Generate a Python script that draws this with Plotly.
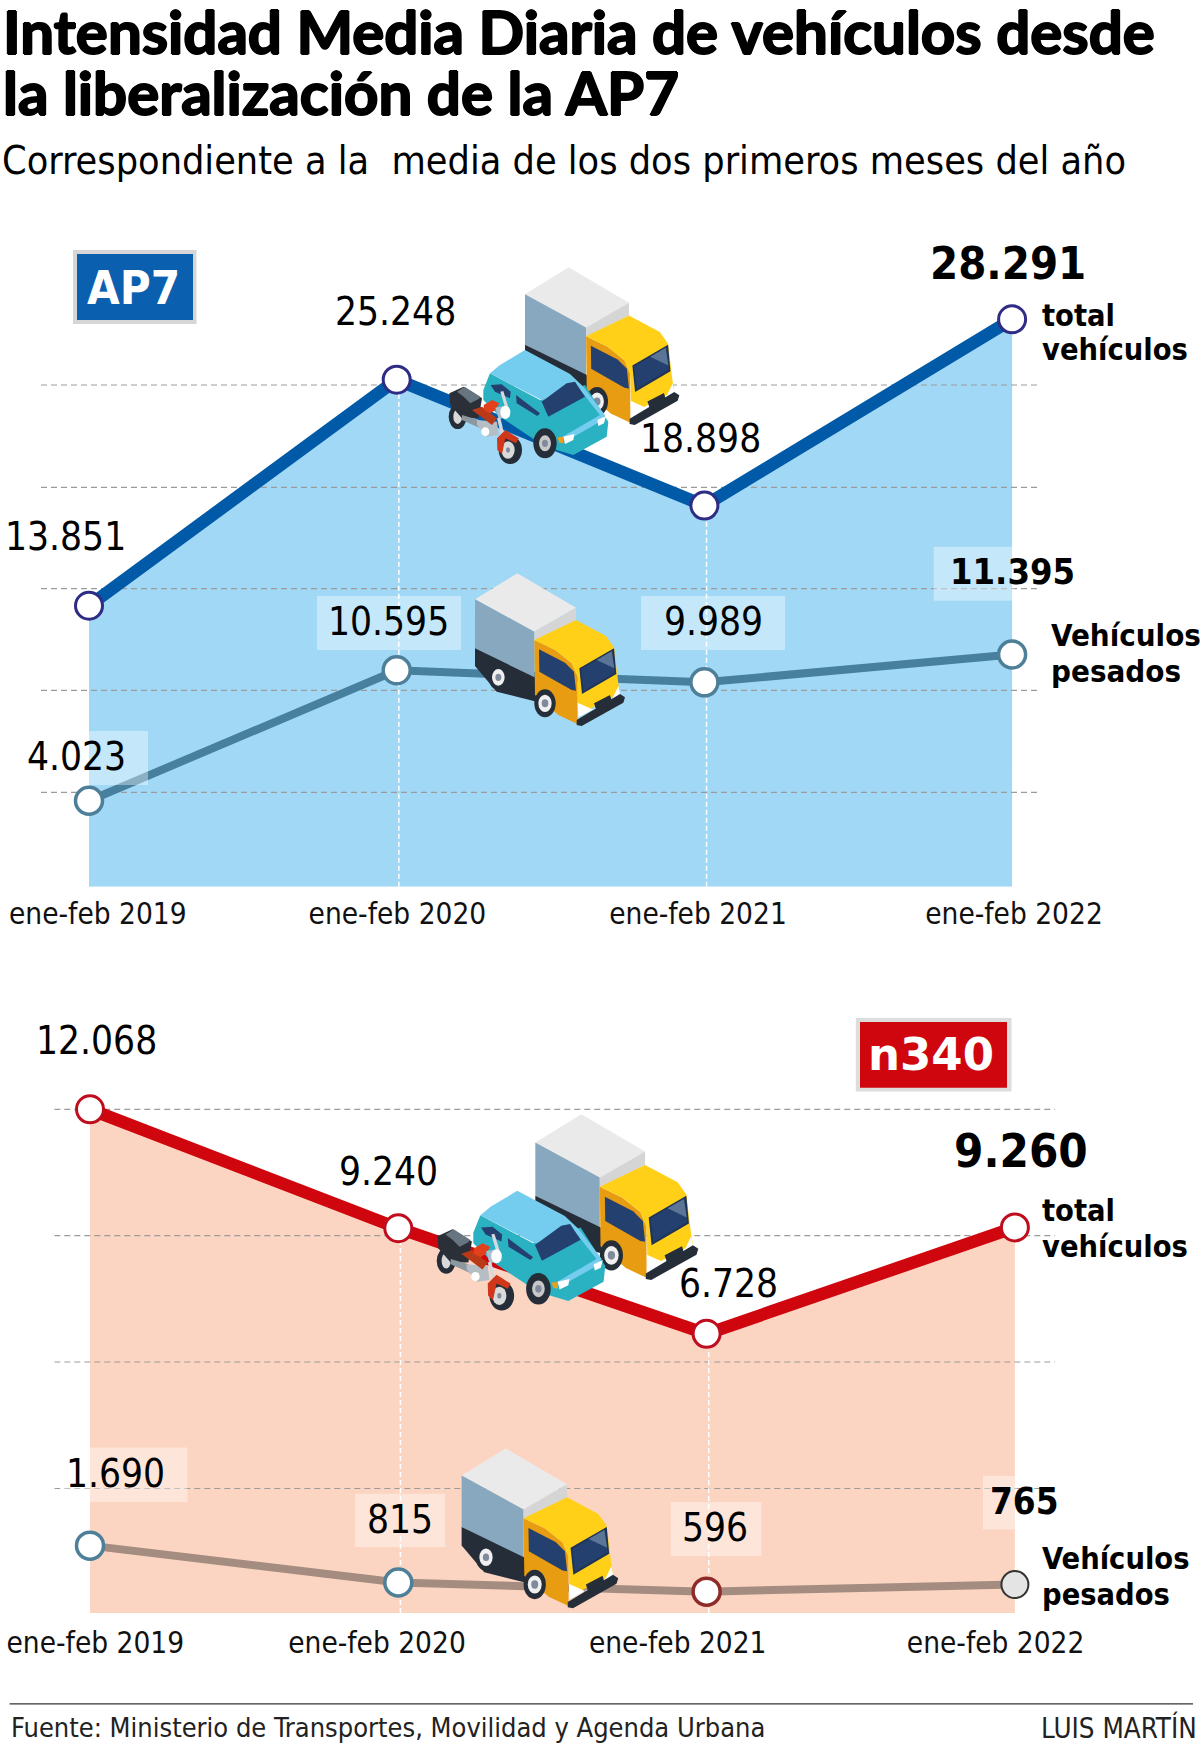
import plotly.graph_objects as go

# ---------- data ----------
categories = ["ene-feb 2019", "ene-feb 2020", "ene-feb 2021", "ene-feb 2022"]
x_index = [0, 1, 2, 3]
ap7_total = [13851, 25248, 18898, 28291]
ap7_heavy = [4023, 10595, 9989, 11395]
n340_total = [12068, 9240, 6728, 9260]
n340_heavy = [1690, 815, 596, 765]

W, H = 1200, 1746
COND = "DejaVu Sans Condensed"
HEAVY = "Lato"
BOLDER = "1px 0 #000, -1px 0 #000, 0 1px #000, 0 -1px #000"
fmt = lambda v: f"{v:,}".replace(",", ".")
px = lambda x: x / W
py = lambda y: 1 - y / H

# pixel geometry of both panels: left, right, top, bottom, x of first point, x step, y of value 0, px per unit
A = dict(l=41, r=1039, t=225, b=886.7, x0=89, dx=307.7, y0=880.5, k=0.019837)
N = dict(l=54.3, r=1055, t=1085, b=1613, x0=90, dx=308.3, y0=1616.7, k=0.04204)
for P in (A, N):
    P["xr"] = [(P["l"] - P["x0"]) / P["dx"], (P["r"] - P["x0"]) / P["dx"]]
    P["yr"] = [(P["y0"] - P["b"]) / P["k"], (P["y0"] - P["t"]) / P["k"]]

fig = go.Figure()


def panel(P, xa, ya, total, heavy, grid, fill, line_c, mark_c, hline_c, hmark_c, hfill, hmark_w):
    base = P["yr"][0]
    kw = dict(xaxis=xa, yaxis=ya, showlegend=False, hoverinfo="skip", cliponaxis=False)
    fig.add_trace(go.Scatter(x=x_index, y=[base] * 4, mode="lines", line=dict(width=0), **kw))
    fig.add_trace(go.Scatter(x=x_index, y=total, mode="lines", line=dict(width=0), fill="tonexty", fillcolor=fill, **kw))
    for g in grid:
        fig.add_trace(go.Scatter(x=P["xr"], y=[g, g], mode="lines",
                                 line=dict(color="#9b9b9b", width=1.2, dash="6px,4px"), **kw))
    for i in (1, 2):
        fig.add_trace(go.Scatter(x=[i + 0.007] * 2, y=[base, total[i]], mode="lines",
                                 line=dict(color="#ffffff", width=1.5, dash="5px,3px"), **kw))
    fig.add_trace(go.Scatter(x=x_index, y=heavy, mode="lines+markers", line=dict(color=hline_c, width=8),
                             marker=dict(size=27, color=hfill, line=dict(color=hmark_c, width=hmark_w), opacity=1), **kw))
    fig.add_trace(go.Scatter(x=x_index, y=total, mode="lines+markers", line=dict(color=line_c, width=12.5),
                             marker=dict(size=27, color="#ffffff", line=dict(color=mark_c, width=3)), **kw))


panel(A, "x", "y", ap7_total, ap7_heavy, [24979, 19822, 14710, 9588, 4446],
      "#A1D8F6", "#005AA7", "#2E2C84", "#46809E", ["#4E7F98"] * 4, ["#ffffff"] * 4, [3.5] * 4)
panel(N, "x2", "y2", n340_total, n340_heavy, [12069, 9063, 6059, 3050],
      "#FCD5C2", "#D0060F", "#C00D1E", "#A48D80",
      ["#4E7F98", "#4E7F98", "#8E2A28", "#333333"], ["#ffffff", "#ffffff", "#ffffff", "#E4E4E4"], [3.5, 3.5, 3.5, 2])


def axes(P, pos_px, standoff):
    x = dict(range=P["xr"], domain=[px(P["l"]), px(P["r"])], tickmode="array",
             tickvals=[(p - P["x0"]) / P["dx"] for p in pos_px], ticktext=categories, ticks="",
             showgrid=False, zeroline=False, showline=False,
             tickfont=dict(family=COND, size=29.5, color="#111111"), ticklabelstandoff=standoff)
    y = dict(range=P["yr"], domain=[py(P["b"]), py(P["t"])], showgrid=False, zeroline=False,
             showticklabels=False, ticks="", showline=False)
    return x, y


xa1, ya1 = axes(A, [97.8, 397.4, 698, 1014], 7)
xa2, ya2 = axes(N, [95.3, 377, 677.7, 995.6], 9)
xa2["anchor"] = "y2"
ya2["anchor"] = "x2"

anns = []


def text(s, x, y, size, family=COND, bold=False, anchor="left", color="#000000", shadow=None):
    font = dict(family=family, size=size, color=color, weight=700 if bold else 400)
    if shadow:
        font["shadow"] = shadow
    anns.append(dict(text=s, xref="paper", yref="paper", x=px(x), y=py(y), xanchor=anchor, yanchor="middle",
                     showarrow=False, font=font))


def vlabel(v, i, xa, ya, dx, dy, bold=False, size=38.5):
    anns.append(dict(text=fmt(v), xref=xa, yref=ya, x=i, y=v, xshift=dx, yshift=-dy, xanchor="center",
                     yanchor="middle", showarrow=False,
                     font=dict(family=COND, size=size, color="#000000", weight=700 if bold else 400)))


# header
text("Intensidad Media Diaria de vehículos desde", 0.5, 31, 60, HEAVY, True, shadow=BOLDER)
text("la liberalización de la AP7", 0.5, 92, 60, HEAVY, True, shadow=BOLDER)
text("Correspondiente a la  media de los dos primeros meses del año", 0, 160, 39.2)

# value labels
off_a_total = [(-23.4, -69), (-1.2, -68), (-4.4, -67.6), (-4.4, -56)]
off_a_heavy = [(-12.5, -44), (-8.7, -48.6), (9.2, -60.6), (0.5, -82.5)]
off_n_total = [(6.6, -68.8), (-9.5, -56.4), (21.9, -50), (5.6, -77)]
off_n_heavy = [(25.6, -72.4), (1.7, -63.4), (8.4, -64.6), (9.5, -83.5)]
for i in range(4):
    b = i == 3
    vlabel(ap7_total[i], i, "x", "y", *off_a_total[i], bold=b, size=45 if b else 38.5)
    vlabel(ap7_heavy[i], i, "x", "y", *off_a_heavy[i], bold=b, size=36 if b else 38.5)
    vlabel(n340_total[i], i, "x2", "y2", *off_n_total[i], bold=b, size=47 if b else 38.5)
    vlabel(n340_heavy[i], i, "x2", "y2", *off_n_heavy[i], bold=b, size=36.5 if b else 38.5)

# series names
text("total", 1039.7, 315, 30.5, COND, True)
text("vehículos", 1039.7, 350, 30.5, COND, True)
text("Vehículos", 1048.5, 635, 31, COND, True)
text("pesados", 1048.5, 671, 31, COND, True)
text("total", 1040, 1210, 30.5, COND, True)
text("vehículos", 1040, 1246, 30.5, COND, True)
text("Vehículos", 1040, 1558, 30.5, COND, True)
text("pesados", 1040, 1594, 30.5, COND, True)

# badges
text("AP7", 133.5, 288, 47, COND, True, "center", "#ffffff")
text("n340", 930.5, 1054, 45, "DejaVu Sans", True, "center", "#ffffff")

# footer
text("Fuente: Ministerio de Transportes, Movilidad y Agenda Urbana", 9, 1727, 27, COND, False, "left", "#222222")
text("LUIS MARTÍN", 1199, 1727, 27.5, COND, False, "right", "#222222")

# ---------- shapes ----------
shapes = []


def rect(x0, y0, x1, y1, color, layer="above"):
    shapes.append(dict(type="rect", xref="paper", yref="paper", x0=px(x0), x1=px(x1), y0=py(y1), y1=py(y0),
                       fillcolor=color, line=dict(width=0), layer=layer))


# translucent plates behind value labels
plate = "rgba(255,255,255,0.38)"
for r in [(50, 731, 148, 785), (317, 596, 461, 650), (641, 596, 785, 650), (933.7, 546.7, 1014.6, 600.7),
          (60, 1447.5, 187.5, 1502), (355, 1493.8, 445, 1547), (670.8, 1502, 761.5, 1556), (983, 1475.7, 1017, 1529.6)]:
    rect(*r, plate)

# badges
rect(73, 250, 196.5, 324, "#D6D6D6")
rect(77, 254, 193, 320, "#0A5FAE")
rect(855.8, 1018, 1011.5, 1091.6, "#DDDDDD")
rect(860, 1022, 1007, 1087.8, "#D0060F")
# footer rule
rect(9.6, 1703.2, 1193, 1704.4, "#333333")

DARK, NAVY, GREY = "#252E38", "#23406F", "#7F8A9C"
TRUCK = [
    ("#EAEAEA", [(105, 118), (232, 40), (408, 143), (283, 215)]),
    ("#87A8BF", [(105, 118), (283, 215), (283, 360), (105, 265)]),
    ("#D5D5D5", [(283, 215), (408, 143), (408, 180), (283, 245)]),
    (DARK, [(105, 265), (290, 355), (290, 425), (170, 395), (105, 318)]),
    ("E", (175, 352, 30, 38, DARK)), ("E", (175, 352, 19, 25, "#F0F0F0")), ("E", (175, 352, 9, 11, GREY)),
    ("#E89C12", [(283, 240), (345, 270), (395, 310), (412, 350), (412, 492), (355, 465), (285, 405)]),
    ("#FFD017", [(283, 240), (408, 180), (498, 228), (522, 262), (535, 370), (540, 400), (415, 465), (412, 350),
                 (395, 310), (345, 270)]),
    (NAVY, [(297, 268), (375, 308), (402, 335), (408, 392), (395, 390), (298, 335)]),
    ("#1F3356", [(418, 325), (522, 265), (529, 342), (426, 402)]),
    (NAVY, [(423, 328), (517, 273), (524, 338), (431, 393)]),
    ("#5B7596", [(470, 300), (515, 274), (523, 325)]),
    ("#FFFFFF", [(413, 428), (462, 450), (515, 420), (535, 378), (541, 405), (415, 472)]),
    (DARK, [(462, 430), (510, 405), (515, 422), (468, 448)]),
    ("E", (315, 430, 32, 42, DARK)), ("E", (315, 430, 20, 26, "#F0F0F0")), ("E", (315, 430, 10, 12, GREY)),
    (DARK, [(410, 480), (540, 402), (555, 412), (550, 428), (425, 498), (410, 495)]),
]
CAR = [
    ("#2BB2C2", [(250, 420), (270, 370), (420, 450), (555, 405), (625, 515), (620, 560), (520, 615), (470, 600),
                 (405, 570), (300, 500), (250, 450)]),
    ("#74CDEE", [(270, 370), (300, 345), (375, 300), (510, 372), (550, 410), (615, 495), (600, 515), (500, 572),
                 (485, 562), (600, 495), (545, 425), (425, 450)]),
    (NAVY, [(425, 455), (500, 400), (525, 395), (555, 440), (445, 500)]),
    (NAVY, [(272, 405), (305, 403), (332, 425), (330, 445), (285, 425)]),
    (NAVY, [(348, 435), (420, 490), (412, 498), (350, 460)]),
    ("E", (435, 580, 35, 45, DARK)), ("E", (435, 580, 18, 24, "#C8C8C8")), ("E", (435, 580, 9, 11, GREY)),
    ("#FFFFFF", [(592, 510), (618, 498), (612, 520), (595, 528)]),
    ("#FFFFFF", [(490, 560), (523, 552), (520, 570), (495, 582)]),
    ("#E8A020", [(472, 562), (490, 560), (490, 580), (478, 578)]),
]
# motorbike outline, relative to its own corner
MOTO = [
    ("E", (47, 125, 27, 37, DARK)), ("E", (47, 125, 13, 22, "#D9D9D9")),
    ("#2B3038", [(22, 55), (65, 35), (120, 70), (110, 130), (60, 130), (25, 90)]),
    ("#66757F", [(45, 50), (68, 35), (115, 65), (110, 72), (85, 85), (65, 65)]),
    ("#8D97A0", [(60, 120), (110, 135), (115, 160), (60, 135)]),
    ("#B5BDC5", [(105, 135), (165, 140), (170, 180), (135, 185), (105, 150)]),
    ("#B83A18", [(90, 105), (120, 95), (165, 130), (150, 150)]),
    ("#E4401E", [(125, 90), (150, 75), (172, 85), (160, 105), (145, 115), (125, 105)]),
    ("#A9BFD0", [(160, 98), (190, 92), (205, 125), (170, 132)]),
    ("#D5D9DE", [(175, 50), (184, 48), (200, 100), (190, 100)]),
    ("#D5D9DE", [(165, 130), (175, 128), (198, 225), (188, 225)]),
    ("E", (190, 112, 15, 20, "#FFFFFF")), ("E", (130, 170, 12, 13, "#FFFFFF")),
    ("E", (205, 225, 35, 42, DARK)), ("E", (198, 225, 20, 26, "#DADADA")), ("E", (198, 225, 6, 8, GREY)),
    ("#D0371A", [(165, 190), (190, 165), (230, 190), (222, 205), (190, 190), (180, 238), (166, 225)]),
]


def draw(parts, ox, oy, sx, sy):
    for color, pts in parts:
        if color == "E":
            cx, cy, rx, ry, c = pts
            X, Y = ox + sx * cx, oy + sy * cy
            shapes.append(dict(type="circle", xref="paper", yref="paper", x0=px(X - sx * rx), x1=px(X + sx * rx),
                               y0=py(Y + sy * ry), y1=py(Y - sy * ry), fillcolor=c, line=dict(width=0), layer="above"))
        else:
            d = "M" + "L".join(f"{px(ox + sx * a):.5f},{py(oy + sy * b):.5f}" for a, b in pts) + "Z"
            shapes.append(dict(type="path", path=d, xref="paper", yref="paper", fillcolor=color,
                               line=dict(width=0), layer="above"))


# top panel vehicles
draw(TRUCK, 489, 253.6, 0.343, 0.344)
draw(CAR, 400, 250, 1 / 3, 1 / 3)
draw(MOTO, 442, 375, 1 / 3, 1 / 3)
draw(TRUCK, 440, 560, 1 / 3, 1 / 3)
# bottom panel vehicles
draw(TRUCK, 497.3, 1099.8, 0.3622, 0.3618)
draw(CAR, 385.3, 1085.8, 0.352, 0.35)
draw(MOTO, 385.3 + 0.352 * 126, 1085.8 + 0.35 * 375, 0.352, 0.35)
draw(TRUCK, 425.1, 1434.4, 0.348, 0.349)

fig.update_layout(width=W, height=H, margin=dict(l=0, r=0, t=0, b=0, autoexpand=False), paper_bgcolor="#ffffff",
                  plot_bgcolor="rgba(0,0,0,0)", showlegend=False, xaxis=xa1, yaxis=ya1, xaxis2=xa2, yaxis2=ya2,
                  annotations=anns, shapes=shapes)
fig.write_html("out.html", config={"displayModeBar": False},
               post_script="document.body.style.margin='0';")
